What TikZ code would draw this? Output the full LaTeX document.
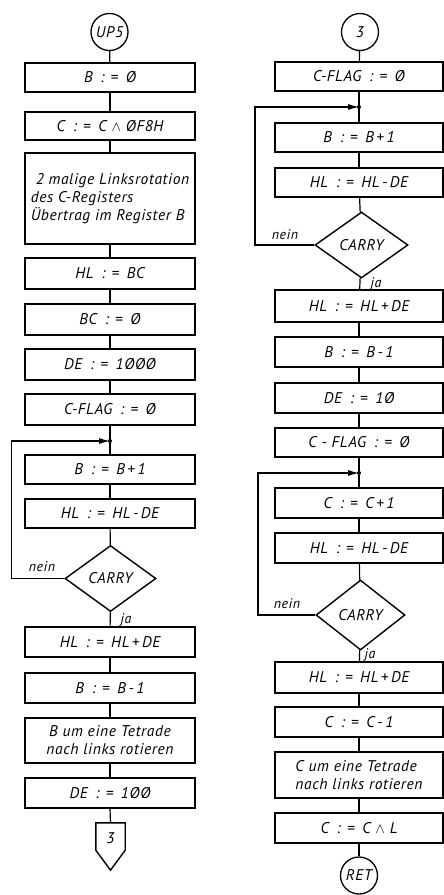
\documentclass[tikz,border=0pt]{standalone}
\usepackage{fontspec}
\setmainfont{PT Sans}[LetterSpace=4]
\usetikzlibrary{arrows.meta,shapes.geometric,calc}
\newcommand{\myasg}{\hspace{0.5em}:\hspace{0.4em}=\hspace{0.5em}}
\newcommand{\mytxt}{\fontsize{15.5}{18}\selectfont\itshape}
\newcommand{\mylab}{\fontsize{14}{16}\selectfont\itshape}
\begin{document}
\mytxt
\begin{tikzpicture}[x=1pt,y=-1pt,
  txt/.style={font=\mytxt},
  conn/.style={line width=1.2pt},
  loopline/.style={line width=1.2pt,-{Latex[length=11pt,width=6pt]}},
  boxL/.style={txt,draw,line width=1.4pt,minimum width=170pt,inner sep=0pt},
  boxR/.style={txt,draw,line width=1.4pt,minimum width=168pt,inner sep=0pt},
  term/.style={txt,draw,circle,line width=1.3pt,minimum size=37pt,inner sep=0pt},
  dec/.style={txt,draw,diamond,line width=1.4pt,inner sep=0pt,minimum width=91pt,minimum height=66pt},
  lab/.style={font=\mylab,inner sep=0pt}]
\useasboundingbox (0,0) rectangle (444,895);

% ---------------- left column ----------------
\node[term] (up5) at (109.5,32) {UP5};
\node[boxL,minimum height=29pt] (b1) at (110,77.5) {B\myasg Ø};
\node[boxL,minimum height=28pt] (b2) at (110,126) {C\myasg C $\wedge$ ØF8H};
\node[boxL,minimum height=91pt,align=left] (b3) at (110,198.5)
  {\hspace*{5pt}2 malige Linksrotation\\des C-Registers\\Übertrag im Register B};
\node[boxL,minimum height=31pt] (b4) at (110,273.5) {HL\myasg BC};
\node[boxL,minimum height=31pt] (b5) at (110,319.5) {BC\myasg Ø};
\node[boxL,minimum height=31pt] (b6) at (110,364.5) {DE\myasg 1ØØØ};
\node[boxL,minimum height=31pt] (b7) at (110,409.5) {C-FLAG\myasg Ø};
\coordinate (j1) at (110,441);
\node[boxL,minimum height=29pt] (b8) at (110,469.5) {B\myasg B\,+\,1};
\node[boxL,minimum height=29pt] (b9) at (110,513.5) {HL\myasg HL\,-\,DE};
\node[dec] (d1) at (110.5,578.5) {CARRY};
\node[boxL,minimum height=30pt] (b10) at (110,642) {HL\myasg HL\,+\,DE};
\node[boxL,minimum height=30pt] (b11) at (110,688) {B\myasg B\,-\,1};
\node[boxL,minimum height=45pt,align=center] (b12) at (110,740.5)
  {B um eine Tetrade\\nach links rotieren};
\node[boxL,minimum height=30pt] (b13) at (110,793) {DE\myasg 1ØØ};
\node[minimum width=29pt,minimum height=47pt,inner sep=0pt] (off3) at (110.5,846.5) {};
\draw[line width=1.4pt] (off3.north west) -- (off3.north east)
  -- ([yshift=20pt]off3.south east) -- (off3.south)
  -- ([yshift=20pt]off3.south west) -- cycle;
\node[txt] (off3t) at (110.5,838) {3};

\foreach \a/\b in {up5/b1,b1/b2,b2/b3,b3/b4,b4/b5,b5/b6,b6/b7,b7/b8,b8/b9,b9/d1,d1/b10,b10/b11,b11/b12,b12/b13}
  \draw[conn] (\a) -- (\b);
\draw[conn] (b13.south) -- (off3.north);
\draw[loopline] (d1.west) -- ++(-53,0) |- (j1);
\fill (j1) circle (2pt);
\node[lab] (n1) at (42,567) {nein};
\node[lab] (ja1) at (126,620) {ja};

% ---------------- right column ----------------
\node[term] (c3) at (360,32) {3};
\node[boxR,minimum height=29pt] (r1) at (359,76.5) {C-FLAG\myasg Ø};
\coordinate (j2) at (359,107);
\node[boxR,minimum height=29pt] (r2) at (359,137.5) {B\myasg B\,+\,1};
\node[boxR,minimum height=29pt] (r3) at (359,182.5) {HL\myasg HL\,-\,DE};
\node[dec,minimum width=93pt] (d2) at (361.5,245) {CARRY};
\node[boxR,minimum height=32pt] (r4) at (359,306) {HL\myasg HL\,+\,DE};
\node[boxR,minimum height=30pt] (r5) at (359,352) {B\myasg B\,-\,1};
\node[boxR,minimum height=30pt] (r6) at (359,398) {DE\myasg 1Ø};
\node[boxR,minimum height=29pt] (r7) at (359,442.5) {C - FLAG\myasg Ø};
\coordinate (j3) at (359,473);
\node[boxR,minimum height=30pt] (r8) at (359,503) {C\myasg C\,+\,1};
\node[boxR,minimum height=30pt] (r9) at (359,548) {HL\myasg HL\,-\,DE};
\node[dec,minimum width=89pt,minimum height=70pt] (d3) at (360.5,615) {CARRY};
\node[boxR,minimum height=31pt] (r10) at (359,677.5) {HL\myasg HL\,+\,DE};
\node[boxR,minimum height=30pt] (r11) at (359,722) {C\myasg C\,-\,1};
\node[boxR,minimum height=46pt,align=left] (r12) at (359,775)
  {C um eine Tetrade\\nach links rotieren};
\node[boxR,minimum height=30pt] (r13) at (359,828) {C\myasg C $\wedge$ L};
\node[term] (ret) at (359,875.5) {RET};

\foreach \a/\b in {c3/r1,r1/r2,r2/r3,r3/d2,d2/r4,r4/r5,r5/r6,r6/r7,r7/r8,r8/r9,r9/d3,d3/r10,r10/r11,r11/r12,r12/r13,r13/ret}
  \draw[conn] (\a) -- (\b);
\draw[loopline] (d2.west) -- (255,245) |- (j2);
\fill (j2) circle (2pt);
\draw[loopline] (d3.west) -- (258,615) |- (j3);
\fill (j3) circle (2pt);
\node[lab] (n2) at (285,235) {nein};
\node[lab] (ja2) at (376,284) {ja};
\node[lab] (n3) at (287,604) {nein};
\node[lab] (ja3) at (370,655) {ja};
\end{tikzpicture}
\end{document}
